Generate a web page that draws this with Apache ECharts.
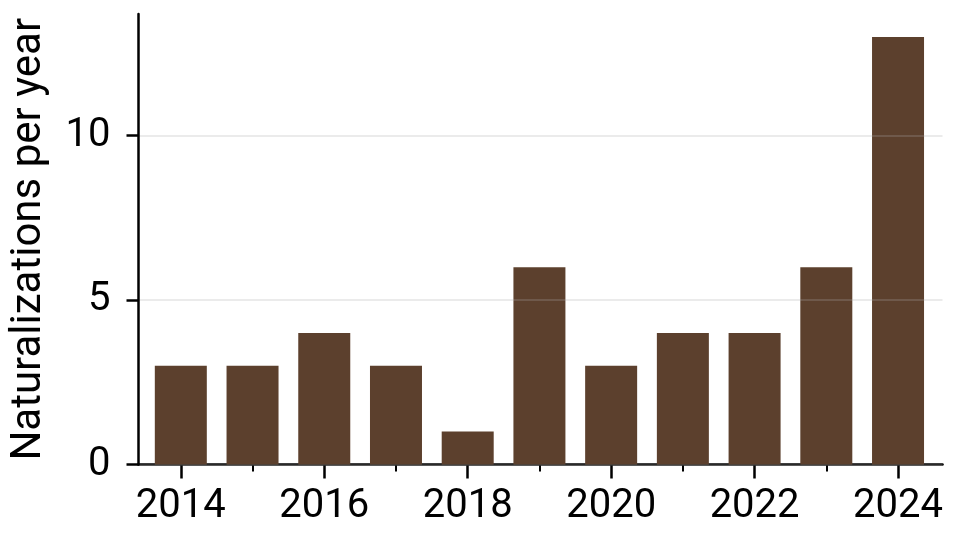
<!DOCTYPE html>
<html>
<head>
<meta charset="utf-8">
<script src="https://cdn.jsdelivr.net/npm/echarts@6/dist/echarts.min.js"></script>
<style>
  html, body { margin: 0; padding: 0; background: #fff; }
  #main { width: 962px; height: 546px; }
</style>
</head>
<body>
<div id="main"></div>
<script>
// naturalizations per year
var years = [2014, 2015, 2016, 2017, 2018, 2019, 2020, 2021, 2022, 2023, 2024];
var counts = [3, 3, 4, 3, 1, 6, 3, 4, 4, 6, 13];
var labelYears = [2014, 2016, 2018, 2020, 2022, 2024];
var minorYears = [2015, 2017, 2019, 2021, 2023];
var yTicks = [0, 5, 10];

var myChart = echarts.init(document.getElementById('main'));

var barData = [];
for (var i = 0; i < years.length; i++) {
    barData.push([years[i], counts[i]]);
}

var font = 'Roboto';

option = {
    animation: false,
    grid: {
        left: 138.5,
        right: 19.5,
        top: 14,
        bottom: 81.5,
        containLabel: false,
        outerBoundsMode: 'none'
    },
    xAxis: [
        {
            type: 'value',
            min: 2013.41,
            max: 2024.62,
            axisLine: {show: true, lineStyle: {color: '#000', width: 2.5}},
            axisTick: {
                show: true,
                customValues: labelYears,
                length: 14,
                lineStyle: {color: '#000', width: 2.5}
            },
            axisLabel: {
                customValues: labelYears,
                formatter: function (v) { return String(v); },
                margin: 22,
                color: '#000',
                fontFamily: font,
                fontSize: 40
            },
            splitLine: {show: false}
        },
        {
            type: 'value',
            position: 'bottom',
            min: 2013.41,
            max: 2024.62,
            axisLine: {show: false},
            axisTick: {
                show: true,
                customValues: minorYears,
                length: 7,
                lineStyle: {color: '#000', width: 2}
            },
            axisLabel: {show: false},
            splitLine: {show: false}
        }
    ],
    yAxis: {
        type: 'value',
        min: 0,
        max: 13.7,
        z: 10,
        name: 'Naturalizations per year',
        nameLocation: 'middle',
        nameGap: 88,
        nameTextStyle: {color: '#000', fontFamily: font, fontSize: 42},
        axisLine: {show: true, lineStyle: {color: '#000', width: 2.5}},
        axisTick: {
            show: true,
            customValues: yTicks,
            length: 12,
            lineStyle: {color: '#000', width: 2.5}
        },
        axisLabel: {
            customValues: yTicks,
            margin: 28,
            color: '#000',
            fontFamily: font,
            fontSize: 40
        },
        splitLine: {
            show: true,
            customValues: [5, 10],
            lineStyle: {color: 'rgba(170,170,170,0.24)', width: 2}
        }
    },
    series: [
        {
            type: 'bar',
            xAxisIndex: 0,
            barWidth: 52,
            itemStyle: {color: '#5c402d'},
            data: barData
        }
    ]
};

myChart.setOption(option);
</script>
</body>
</html>
